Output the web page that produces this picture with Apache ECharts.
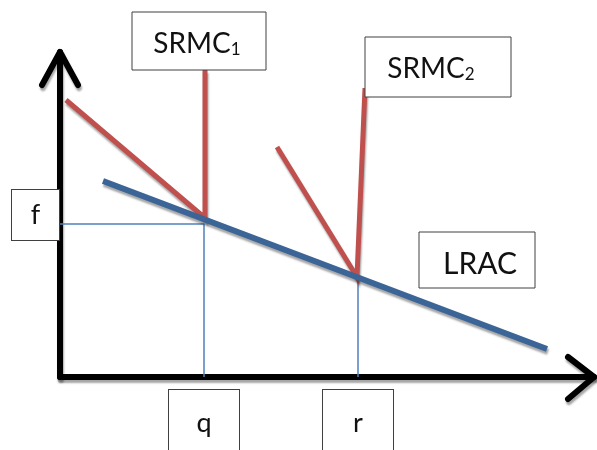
<!DOCTYPE html>
<html>
<head>
<meta charset="utf-8">
<script src="https://cdn.jsdelivr.net/npm/echarts@6/dist/echarts.min.js"></script>
<style>html,body{margin:0;padding:0;background:#fff}#c{width:597px;height:450px}</style>
</head>
<body>
<div id="c"></div>
<script>
// ---- data (chart units) ----
const xTickLabels = ['q', 'r'];
const xTickValues = [144, 298];
const yTickLabels = ['f'];
const yTickValues = [153];
const lracX = [43, 487];
const lracY = [196, 28];
const srmc1X = [6, 145, 145];
const srmc1Y = [277, 159, 307];
const srmc2X = [217, 297, 305];
const srmc2Y = [230, 100, 289];
const yArrowX = [-18, 0, 18];
const yArrowY = [292, 325, 292];
const xArrowX = [508, 534, 508];
const xArrowY = [20, 0, -22];
const xMax = 534, yMax = 325, xPad = 60;

const zip = (a, b) => a.map((v, i) => [v, b[i]]);
const FONT = 'Lato';
const shadow = {shadowColor: 'rgba(0,0,0,0.35)', shadowBlur: 2, shadowOffsetX: 1, shadowOffsetY: 3};

const chart = echarts.init(document.getElementById('c'));
const boxRich = (w, h) => ({
  b: {width: w, height: h, lineHeight: h, align: 'center', borderColor: '#404040', borderWidth: 1,
      backgroundColor: '#fff', fontSize: 27, fontFamily: FONT, color: '#111'}
});

const guideStyle = {color: '#4F81BD', width: 1.5};
function line(data, style, z, idx) {
  return {type: 'line', data: data, symbol: 'none', clip: false, silent: true, z: z,
          xAxisIndex: idx || 0, yAxisIndex: idx || 0, lineStyle: style, animation: false};
}
const arrowStyle = Object.assign({color: '#000', width: 6, cap: 'round', join: 'round'}, shadow);
const option = {
  animation: false,
  grid: [
    {left: 60, right: 3, top: 52, bottom: 73, outerBoundsMode: 'none', containLabel: false},
    {left: 60 - xPad, right: 3, top: 52, bottom: 73, outerBoundsMode: 'none', containLabel: false}
  ],
  xAxis: [{
    type: 'value', min: 0, max: xMax, splitLine: {show: false},
    axisTick: {show: false},
    axisLine: {lineStyle: Object.assign({color: '#000', width: 6}, shadow)},
    axisLabel: {
      customValues: xTickValues, margin: 13,
      formatter: v => '{b|' + xTickLabels[xTickValues.indexOf(v)] + '}',
      rich: boxRich(70, 66)
    }
  }, {
    type: 'value', gridIndex: 1, min: -xPad, max: xMax, show: false
  }],
  yAxis: [{
    type: 'value', min: 0, max: yMax, splitLine: {show: false},
    axisTick: {show: false},
    axisLine: {lineStyle: Object.assign({color: '#000', width: 6}, shadow)},
    axisLabel: {
      customValues: yTickValues, margin: 1, padding: [0, 0, 18, 0],
      formatter: v => '{b|' + yTickLabels[yTickValues.indexOf(v)] + '}',
      rich: boxRich(47, 50)
    }
  }, {
    type: 'value', gridIndex: 1, min: 0, max: yMax, show: false
  }],
  series: [
    line([[0, yTickValues[0]], [xTickValues[0], yTickValues[0]], [xTickValues[0], 0]], guideStyle, 2),
    line([[xTickValues[1], lracY[0] + (lracY[1] - lracY[0]) * (xTickValues[1] - lracX[0]) / (lracX[1] - lracX[0])], [xTickValues[1], 0]], guideStyle, 2),
    line(zip(srmc1X, srmc1Y), Object.assign({color: '#C0504D', width: 5, cap: 'butt', join: 'miter'}, shadow), 3),
    line(zip(srmc2X, srmc2Y), Object.assign({color: '#C0504D', width: 5, cap: 'butt', join: 'miter'}, shadow), 3),
    line(zip(lracX, lracY), Object.assign({color: '#3B6497', width: 6, cap: 'butt'}, shadow), 4),
    line(zip(yArrowX, yArrowY), arrowStyle, 5, 1),
    line(zip(xArrowX, xArrowY), arrowStyle, 5)
  ],
  graphic: [
    {type: 'rect', shape: {x: 132, y: 12, width: 134, height: 58}, style: {fill: '#fff', stroke: '#404040', lineWidth: 1}, z: 10},
    {type: 'text', x: 197, y: 43, z: 11, style: {text: '{m|SRMC}{s|1}', align: 'center', verticalAlign: 'middle',
      rich: {m: {fontSize: 28, fontFamily: FONT, fill: '#111', lineHeight: 30, verticalAlign: 'bottom'},
             s: {fontSize: 17, fontFamily: FONT, fill: '#111', lineHeight: 30, verticalAlign: 'bottom'}}}},
    {type: 'rect', shape: {x: 365, y: 37, width: 146, height: 60}, style: {fill: '#fff', stroke: '#404040', lineWidth: 1}, z: 10},
    {type: 'text', x: 431, y: 68, z: 11, style: {text: '{m|SRMC}{s|2}', align: 'center', verticalAlign: 'middle',
      rich: {m: {fontSize: 28, fontFamily: FONT, fill: '#111', lineHeight: 30, verticalAlign: 'bottom'},
             s: {fontSize: 17, fontFamily: FONT, fill: '#111', lineHeight: 30, verticalAlign: 'bottom'}}}},
    {type: 'rect', shape: {x: 419, y: 232, width: 116, height: 56}, style: {fill: '#fff', stroke: '#404040', lineWidth: 1}, z: 10},
    {type: 'text', x: 480, y: 264, z: 11, style: {text: 'LRAC', align: 'center', verticalAlign: 'middle',
      fontSize: 30, fontFamily: FONT, fill: '#111'}}
  ]
};
chart.setOption(option);
</script>
</body>
</html>
